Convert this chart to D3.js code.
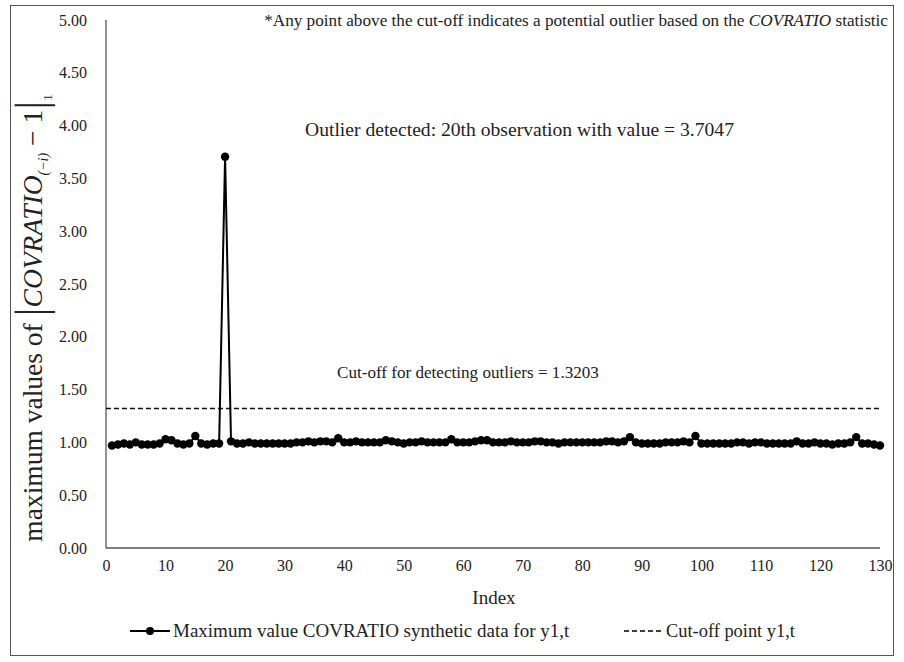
<!DOCTYPE html>
<html><head><meta charset="utf-8">
<script src="https://cdn.jsdelivr.net/npm/d3@7/dist/d3.min.js"></script>
<style>body{margin:0;background:#fff}</style>
</head><body><svg id="c" width="904" height="662"></svg>
<script>
const xTicks = [0,10,20,30,40,50,60,70,80,90,100,110,120,130];
const yTicks = [0,0.5,1,1.5,2,2.5,3,3.5,4,4.5,5];
const covratio = [0.97,0.98,0.99,0.98,1.00,0.98,0.98,0.98,0.99,1.03,1.02,0.99,0.98,0.99,1.06,0.99,0.98,0.99,0.99,3.7047,
1.01,0.99,0.99,1.00,0.99,0.99,0.99,0.99,0.99,0.99,0.99,1.00,1.00,1.01,1.00,1.01,1.01,1.00,1.04,1.00,
1.00,1.01,1.00,1.00,1.00,1.00,1.02,1.01,1.00,0.99,1.00,1.00,1.01,1.00,1.00,1.00,1.00,1.03,1.00,1.00,
1.00,1.01,1.02,1.02,1.00,1.00,1.00,1.01,1.00,1.00,1.00,1.01,1.01,1.00,1.00,0.99,1.00,1.00,1.00,1.00,
1.00,1.00,1.00,1.01,1.01,1.00,1.01,1.05,1.00,0.99,0.99,0.99,0.99,1.00,1.00,1.00,1.01,1.00,1.06,0.99,
0.99,0.99,0.99,0.99,0.99,1.00,1.00,0.99,1.00,1.00,0.99,0.99,0.99,0.99,0.99,1.01,0.99,0.99,1.00,0.99,
0.99,0.98,0.99,0.99,1.00,1.05,0.99,0.99,0.98,0.97];
const cutoff = 1.3203;
const legendLabels = ["Maximum value COVRATIO synthetic data for y1,t","Cut-off point y1,t"];
const FONT = "'Liberation Serif', Tinos, 'Times New Roman', 'DejaVu Serif', serif";

const svg = d3.select("#c").attr("font-family",FONT);
svg.append("rect").attr("x",10.5).attr("y",5.5).attr("width",883).attr("height",650)
  .attr("fill","none").attr("stroke","#555").attr("stroke-width",1);

const x = d3.scaleLinear().domain([0,130]).range([106,880]);
const y = d3.scaleLinear().domain([0,5]).range([548,20]);

svg.append("line").attr("x1",x(0)).attr("x2",x(0)).attr("y1",y(5)).attr("y2",y(0)).attr("stroke","#555").attr("stroke-width",1.3);
svg.append("line").attr("x1",x(0)).attr("x2",x(130)).attr("y1",y(0)).attr("y2",y(0)).attr("stroke","#555").attr("stroke-width",1.3);

const yAxis = d3.axisLeft(y).tickValues(yTicks).tickFormat(d3.format(".2f")).tickSize(0).tickPadding(19);
const gy = svg.append("g").attr("transform",`translate(${x(0)},0)`).call(yAxis).attr("font-family",FONT).attr("font-size",16);
gy.select(".domain").remove();
gy.selectAll("text").attr("fill","#222");

const xAxis = d3.axisBottom(x).tickValues(xTicks).tickSize(0).tickPadding(12);
const gx = svg.append("g").attr("transform",`translate(0,${y(0)})`).call(xAxis).attr("font-family",FONT).attr("font-size",16);
gx.select(".domain").remove();
gx.selectAll("text").attr("fill","#222");

svg.append("line").attr("x1",x(0)).attr("x2",x(130)).attr("y1",y(cutoff)).attr("y2",y(cutoff))
  .attr("stroke","#111").attr("stroke-width",1.5).attr("stroke-dasharray","5,3");

const pts = covratio.map((v,i)=>[i+1,v]);
svg.append("path").datum(pts).attr("fill","none").attr("stroke","#000").attr("stroke-width",2)
  .attr("d",d3.line().x(d=>x(d[0])).y(d=>y(d[1])));
svg.append("g").selectAll("circle").data(pts).join("circle")
  .attr("cx",d=>x(d[0])).attr("cy",d=>y(d[1])).attr("r",4.2).attr("fill","#000");

const t1 = svg.append("text").attr("x",888).attr("y",26).attr("text-anchor","end").attr("font-size",17.2).attr("fill","#222");
t1.append("tspan").text("*Any point above the cut-off indicates a potential outlier based on the ");
t1.append("tspan").attr("font-style","italic").text("COVRATIO");
t1.append("tspan").text(" statistic");
svg.append("text").attr("x",305).attr("y",136).attr("font-size",19.6).attr("fill","#222").text("Outlier detected: 20th observation with value = 3.7047");
svg.append("text").attr("x",337).attr("y",378).attr("font-size",17.1).attr("fill","#222").text("Cut-off for detecting outliers = 1.3203");

svg.append("text").attr("x",494).attr("y",604).attr("text-anchor","middle").attr("font-size",19).attr("fill","#222").text("Index");

const yl = svg.append("text").attr("transform","translate(42,318) rotate(-90)").attr("text-anchor","middle").attr("font-size",27.5).attr("fill","#222");
yl.append("tspan").text("maximum values of ");
yl.append("tspan").attr("font-size",45).attr("dy",4).text("|");
yl.append("tspan").attr("font-style","italic").attr("dy",-4).text("COVRATIO");
yl.append("tspan").attr("font-style","italic").attr("font-size",14).attr("dy",6).text("(−i)");
yl.append("tspan").attr("dy",-6).text(" − 1");
yl.append("tspan").attr("font-size",45).attr("dy",4).text("|");
yl.append("tspan").attr("font-size",13).attr("dy",6).text("1");

const ly = 631;
svg.append("line").attr("x1",130).attr("x2",170).attr("y1",ly).attr("y2",ly).attr("stroke","#000").attr("stroke-width",2);
svg.append("circle").attr("cx",150).attr("cy",ly).attr("r",4).attr("fill","#000");
svg.append("text").attr("x",173).attr("y",ly+6).attr("font-size",19).attr("fill","#222").text(legendLabels[0]);
svg.append("line").attr("x1",624).attr("x2",664).attr("y1",ly).attr("y2",ly).attr("stroke","#000").attr("stroke-width",1.5).attr("stroke-dasharray","5,3");
svg.append("text").attr("x",666).attr("y",ly+6).attr("font-size",18.4).attr("fill","#222").text(legendLabels[1]);
</script></body></html>
